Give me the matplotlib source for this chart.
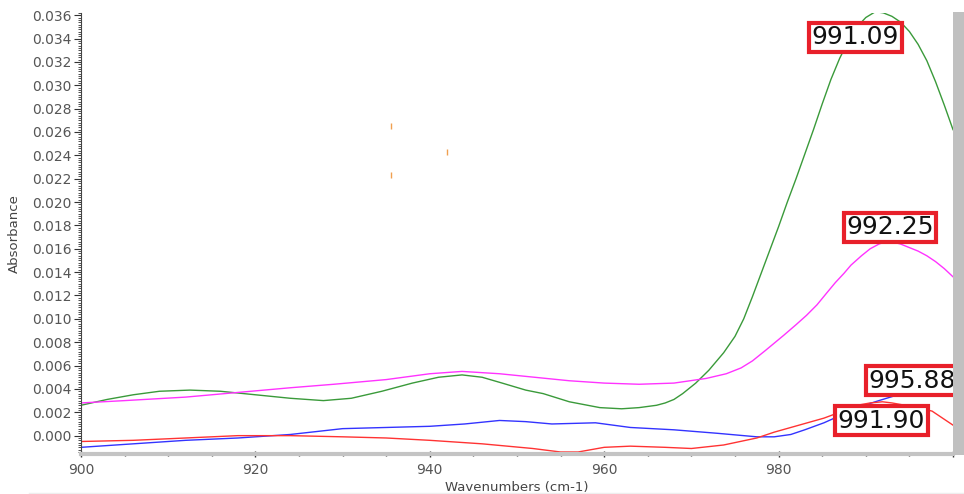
import numpy as np
import matplotlib
matplotlib.use("Agg")
import matplotlib.pyplot as plt
from matplotlib.patches import Rectangle
from matplotlib.ticker import MultipleLocator, FixedLocator, FuncFormatter, FormatStrFormatter

# spectra: (wavenumber, absorbance) pairs
green_x = [900, 903, 906, 909, 912.5, 916, 920, 924, 927.8, 931, 934.5, 938, 941, 943.7, 946,
           948.3, 951, 953, 956, 959.5, 962, 964, 966, 967, 968, 969, 970.5, 972, 973.7,
           975, 976, 977, 978, 979, 980, 981, 982, 983, 984, 985, 986, 987,
           988, 989, 990, 991.1, 992, 993, 994, 995, 996, 997, 998, 999, 1000]
green_y = [0.0026, 0.0031, 0.0035, 0.0038, 0.0039, 0.0038, 0.0035, 0.0032, 0.0030, 0.0032,
           0.0038, 0.0045, 0.0050, 0.0052, 0.0050, 0.0045, 0.0039, 0.0036, 0.0029, 0.0024,
           0.0023, 0.0024, 0.0026, 0.0028, 0.0031, 0.0036, 0.0045, 0.0056, 0.0071,
           0.0085, 0.0100, 0.0119, 0.0139, 0.0159, 0.0179, 0.0200, 0.0220, 0.0241, 0.0262,
           0.0284, 0.0305, 0.0323, 0.0338, 0.0350, 0.0358, 0.0363, 0.0362, 0.0359, 0.0354,
           0.0346, 0.0335, 0.0321, 0.0303, 0.0283, 0.0262]

magenta_x = [900, 905, 912, 918, 924, 929, 935, 940, 943.7, 948, 952, 956, 960, 964, 968,
             971.7, 974, 975.7, 977, 978.5, 980.6, 982, 983.2, 984.4, 985.5, 986.5, 987.5,
             988.3, 989.5, 990.5, 991.5, 992.25, 993, 994, 995, 996, 997, 998, 999, 1000]
magenta_y = [0.0028, 0.0030, 0.0033, 0.0037, 0.0041, 0.0044, 0.0048, 0.0053, 0.0055, 0.0053,
             0.0050, 0.0047, 0.0045, 0.0044, 0.0045, 0.0049, 0.0053, 0.0058, 0.0064, 0.0073,
             0.0086, 0.0095, 0.0103, 0.0112, 0.0122, 0.0131, 0.0139, 0.0146, 0.0154, 0.0160,
             0.0164, 0.0166, 0.0166, 0.0164, 0.0161, 0.0158, 0.0154, 0.0149, 0.0143, 0.0136]

blue_x = [900, 906, 912, 918, 924, 930, 935, 940, 944, 948, 951, 954, 959, 963, 968, 973,
          977.5, 979.5, 981.4, 983, 985.2, 987, 989, 991.5, 993.7, 995.88, 998, 1000]
blue_y = [-0.0010, -0.0007, -0.0004, -0.0002, 0.0001, 0.0006, 0.0007, 0.0008, 0.0010, 0.0013,
          0.0012, 0.0010, 0.0011, 0.0007, 0.0005, 0.0002, -0.0001, -0.0001, 0.0001, 0.0005,
          0.0011, 0.0017, 0.0024, 0.0030, 0.0035, 0.0036, 0.0035, 0.0034]

red_x = [900, 906, 912, 918, 924, 930, 935, 940, 946, 951.8, 955, 957, 960, 963, 967, 970,
         973.7, 977.5, 979.5, 981.4, 983.3, 985.2, 987, 989, 990.5, 991.9, 993, 994.5, 996,
         997.6, 999, 1000]
red_y = [-0.0005, -0.0004, -0.0002, 0.0000, 0.0000, -0.0001, -0.0002, -0.0004, -0.0007,
         -0.0011, -0.0014, -0.0014, -0.0010, -0.0009, -0.0010, -0.0011, -0.0008, -0.0002,
         0.0003, 0.0007, 0.0011, 0.0015, 0.0020, 0.0026, 0.0028, 0.0029, 0.0028, 0.0026,
         0.0024, 0.0021, 0.0014, 0.0009]

# stray cursor marks
mark_x = [935.6, 942.0, 935.6]
mark_y = [0.02648, 0.02425, 0.02228]

# peak labels: text, x, y
peak_labels = ["991.09", "992.25", "995.88", "991.90"]
peak_x = [988.8, 992.8, 995.3, 991.8]
peak_y = [0.03412, 0.01786, 0.00470, 0.00126]

x_ticks = [900, 920, 940, 960, 980, 1000]

fig = plt.figure(figsize=(9.64, 4.94), dpi=100)
ax = fig.add_axes([0.084, 0.081, 0.9046, 0.893])

ax.plot(green_x, green_y, color="#3a9a3a", lw=1.0)
ax.plot(magenta_x, magenta_y, color="#ff33ff", lw=1.0)
ax.plot(blue_x, blue_y, color="#3333ff", lw=1.0)
ax.plot(red_x, red_y, color="#ff3333", lw=1.0)
ax.plot(mark_x, mark_y, ls="none", marker="|", ms=4, mew=1.0, color="#f0a050")

for txt, px, py in zip(peak_labels, peak_x, peak_y):
    ax.text(px, py, txt, ha="center", va="center", fontsize=18, color="#111111",
            clip_on=True,
            bbox=dict(boxstyle="square,pad=0.1", fc="white", ec="#e8202a", lw=3))

ax.set_xlim(900, 1000)
ax.set_ylim(-0.00157, 0.0362)

ax.xaxis.set_major_locator(FixedLocator(x_ticks))
ax.xaxis.set_major_formatter(FuncFormatter(lambda v, p: "" if v >= 1000 else f"{v:.0f}"))
ax.xaxis.set_minor_locator(MultipleLocator(5))
ax.yaxis.set_major_locator(MultipleLocator(0.002))
ax.yaxis.set_minor_locator(MultipleLocator(0.0002))
ax.yaxis.set_major_formatter(FormatStrFormatter("%.3f"))

for s in ["top", "right"]:
    ax.spines[s].set_visible(False)
ax.spines["bottom"].set_color("#c4c4c4")
ax.spines["bottom"].set_linewidth(3)
ax.spines["left"].set_color("#444444")
ax.spines["left"].set_linewidth(0.8)

ax.tick_params(axis="x", which="major", direction="inout", length=5, width=1,
               color="#333333", labelsize=10, labelcolor="#555555", pad=4)
ax.tick_params(axis="x", which="minor", direction="inout", length=3, width=1, color="#333333")
ax.tick_params(axis="y", which="major", direction="out", length=5, width=0.8,
               color="#333333", labelsize=10, labelcolor="#555555", pad=2)
ax.tick_params(axis="y", which="minor", direction="out", length=2, width=0.6, color="#333333")

ax.set_xlabel("Wavenumbers (cm-1)", fontsize=9.5, color="#444444", labelpad=3)
ax.set_ylabel("Absorbance", fontsize=9.5, color="#444444", labelpad=8)

# scroll bar strip on the right
fig.patches.append(Rectangle((0.9886, 0.079), 0.0114, 0.897, transform=fig.transFigure,
                             facecolor="#c0c0c0", edgecolor="none"))
fig.add_artist(plt.Line2D([0.03, 1.0], [0.003, 0.003], transform=fig.transFigure,
                          color="#eeeeee", lw=1))

fig.savefig("out.png", dpi=100)
